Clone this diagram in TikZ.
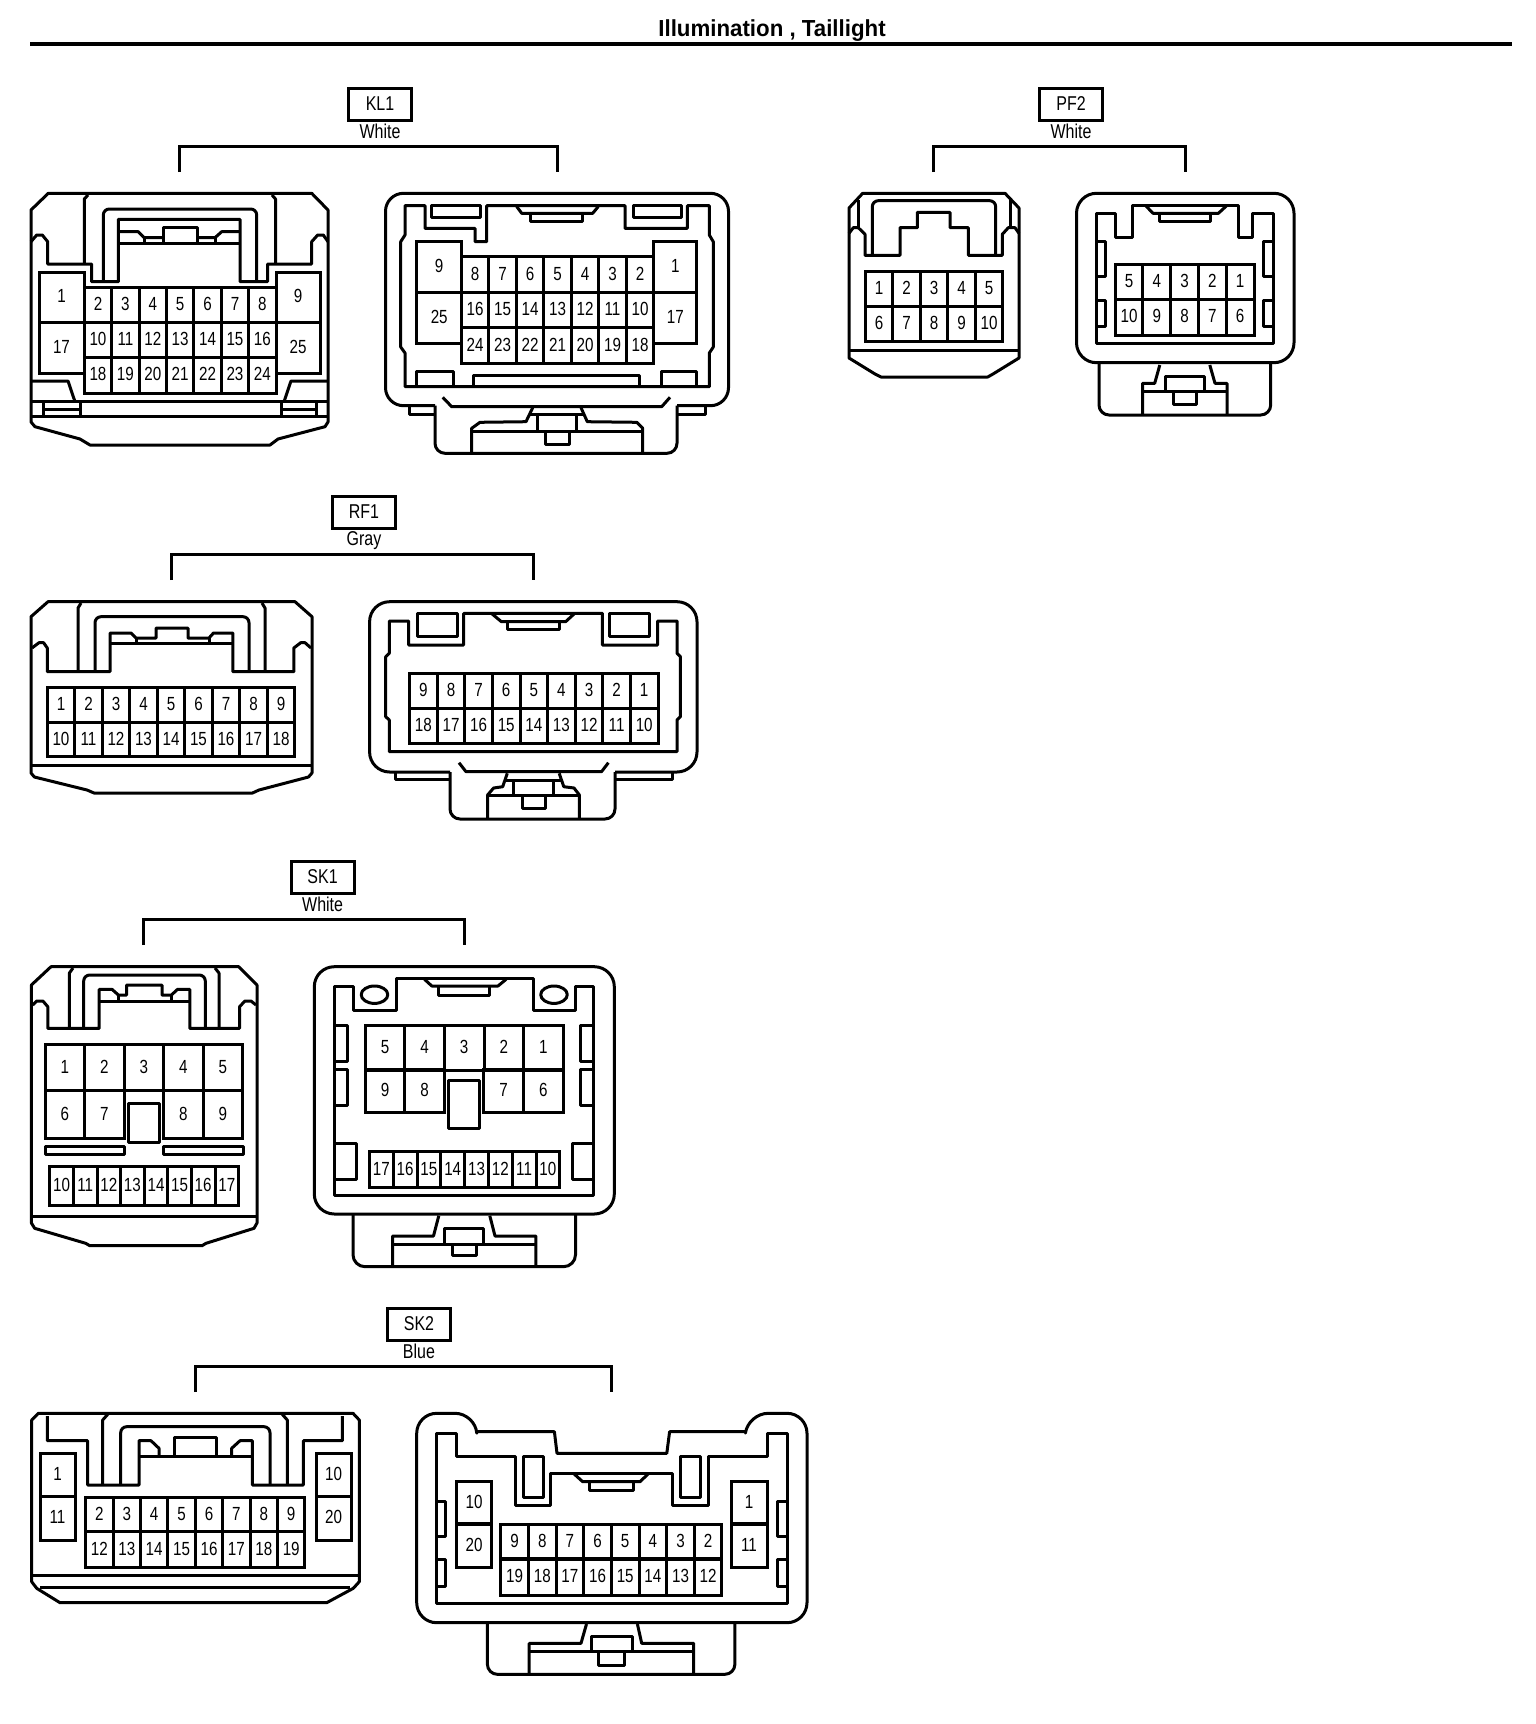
\documentclass[tikz,border=0pt]{standalone}
\usepackage{fontspec}
\setmainfont[FakeStretch=.8]{Liberation Sans}
\newfontfamily\headfont[FakeStretch=.96]{Liberation Sans}
\usetikzlibrary{positioning}
\begin{document}
\begin{tikzpicture}[x=.5pt,y=-.5pt,
part/.style={line width=1.5pt,line join=round},
bracket/.style={line width=1.5pt},
cavity/.style 2 args={draw,line width=1.5pt,inner sep=0pt,outer sep=0pt,text depth=1pt,minimum width=#1*.5pt,minimum height=#2*.5pt,font=\fontsize{9.5}{10}\selectfont},
connlabel/.style={draw,line width=1.5pt,inner sep=0pt,outer sep=0pt,minimum width=31.5pt,minimum height=16pt,font=\fontsize{10}{11}\selectfont},
colorlabel/.style={inner sep=0pt,outer sep=0pt,font=\fontsize{10}{11}\selectfont}]
\fill[white] (0,0) rectangle (1536,1724);
\useasboundingbox (0,0) rectangle (1536,1724);
\node[inner sep=0pt,font=\headfont\bfseries\fontsize{11.6}{13}\selectfont] (title) at (772,31) {Illumination , Taillight};
\coordinate (ruleL) at (30,44);
\coordinate (ruleR) at (1512,44);
\draw[line width=2pt] (ruleL) -- (ruleR);
\foreach \cn/\col/\x/\y/\xl/\xr in {KL1/White/380/104/179/557,PF2/White/1071/104/933/1185,RF1/Gray/364/512/171/533,SK1/White/322.6/877/143.7/464,SK2/Blue/419/1324/195.5/611} {
   \node[connlabel] (\cn) at (\x,\y) {\cn};
   \node[colorlabel,below=2pt of \cn] (\cn col) {\col};
   \coordinate (\cn L) at (\xl,\y+68);
   \coordinate (\cn R) at (\xr,\y+68);
   \draw[bracket] (\cn L) -- ++(0,-26) -| (\cn R);
}
\foreach \p/\xa/\ya/\pw/\ph/\pins in {
   KLa/98/304.5/27.4/35/{2,3,4,5,6,7,8},KLa/98/339.5/27.4/35/{10,11,12,13,14,15,16},KLa/98/375/27.4/36/{18,19,20,21,22,23,24},
   KLa/61.5/297/45/50/{1},KLa/61.5/347.5/45/51/{17},KLa/298/297/44/50/{9},KLa/298/347.5/44/51/{25},
   KLb/475/274.7/27.5/36/{8,7,6,5,4,3,2},KLb/475/310.3/27.5/35.3/{16,15,14,13,12,11,10},KLb/475/345.7/27.5/35.5/{24,23,22,21,20,19,18},
   KLb/439.2/266.5/45/51/{9},KLb/439.2/317.5/45/51/{25},KLb/675.4/266.5/43/51/{1},KLb/675.4/317.5/43/51/{17},
   PFa/879/288.8/27.5/34.5/{1,2,3,4,5},PFa/879/323.5/27.5/35/{6,7,8,9,10},
   PFb/1129/281.7/27.8/35.3/{5,4,3,2,1},PFb/1129/317.2/27.8/35.7/{10,9,8,7,6},
   RFa/61/704.8/27.5/35/{1,2,3,4,5,6,7,8,9},RFa/61/739.5/27.5/34.4/{10,11,12,13,14,15,16,17,18},
   RFb/423.4/690.8/27.6/35/{9,8,7,6,5,4,3,2,1},RFb/423.4/725.8/27.6/35/{18,17,16,15,14,13,12,11,10},
   SKa/64.8/1067.5/39.5/46.4/{1,2,3,4,5},SKa/64.8/1114.5/39.5/47.6/{6,7},SKa/183.3/1114.5/39.5/47.6/{8,9},
   SKa/61.6/1186.3/23.6/39.3/{10,11,12,13,14,15,16,17},
   SKb/385/1047.5/39.6/45/{5,4,3,2,1},SKb/385/1091.3/39.6/42.7/{9,8},SKb/503.7/1091.3/39.6/42.7/{7,6},
   SKb/381.3/1169.7/23.8/36/{17,16,15,14,13,12,11,10},
   SKc/99.4/1514.5/27.4/34.4/{2,3,4,5,6,7,8,9},SKc/99.4/1549.5/27.4/35.6/{12,13,14,15,16,17,18,19},
   SKc/57.5/1475/35/43.4/{1},SKc/57.5/1518.3/35/43.4/{11},SKc/333.5/1475/35/43.4/{10},SKc/333.5/1518.3/35/43.4/{20},
   SKd/514.6/1541.5/27.65/35/{9,8,7,6,5,4,3,2},SKd/514.6/1577.3/27.65/36.7/{19,18,17,16,15,14,13,12},
   SKd/474/1502.5/35.4/43/{10},SKd/474/1545.8/35.4/43.7/{20},SKd/749/1502.5/36/43/{1},SKd/749/1545.8/36/43.7/{11}} {
   \foreach \n[count=\i from 0] in \pins {
      \node[cavity={\pw}{\ph}] (\p\n) at (\xa+\i*\pw,\ya) {\n};
   }
}
% KL1
\draw[part] (48.3,193.3) -- (31,210) -- (31,422) -- (35,426.7) -- (80,439) -- (90,445) -- (270,445) -- (278,439) -- (325,426.7) -- (328,422) -- (328,210) -- (311.7,193.3) -- cycle;
\draw[part] (31,241.7) -- (36.7,235) -- (42.3,235) -- (47.7,241.7) -- (47.7,264) -- (91.7,264) -- (91.7,281.7) -- (118.3,281.7) -- (118.3,219.3) -- (240,219.3) -- (240,281.7) -- (267.5,281.7) -- (267.5,264) -- (311.7,264) -- (311.7,241.7) -- (317.7,235) -- (323.3,235) -- (328,241.7);
\draw[part] (84.3,264) -- (84.3,199) -- (88,195);
\draw[part] (275.5,264) -- (275.5,199) -- (272,195);
\draw[part,rounded corners=3pt] (103.3,281.7) -- (103.3,209) -- (256.7,209) -- (256.7,281.7);
\draw[part] (118.3,243.3) -- (240,243.3);
\draw[part] (163.3,243.3) -- (163.3,227.3) -- (197.7,227.3) -- (197.7,243.3);
\draw[part] (118.3,231.7) -- (138.3,231.7) -- (144.3,237.7) -- (163.3,237.7);
\draw[part] (144.3,237.7) -- (144.3,243.3);
\draw[part] (240,231.7) -- (221.7,231.7) -- (215,237.7) -- (197.7,237.7);
\draw[part] (215,237.7) -- (215,243.3);
\draw[part] (31,381) -- (68,381) -- (75,401.7);
\draw[part] (328,381) -- (291,381) -- (284,401.7);
\draw[part] (31,401.7) -- (328,401.7);
\draw[part] (31,416.7) -- (328,416.7);
\foreach \x in {43.3,80,281,316.7} {
   \draw[part] (\x,401.7) -- (\x,416.7);
}
\draw[part] (43.3,409) -- (80,409);
\draw[part] (281,409) -- (316.7,409);
\draw[part,rounded corners=9pt] (435,405.7) -- (385.5,405.7) -- (385.5,193.3) -- (728.5,193.3) -- (728.5,405.7) -- (677,405.7);
\draw[part] (409.3,405.7) -- (409.3,414.3) -- (435,414.3);
\draw[part] (705,405.7) -- (705,414.3) -- (677,414.3);
\draw[part,rounded corners=5pt] (435,405.7) -- (435,453.3) -- (677,453.3) -- (677,405.7);
\draw[part] (405,386.7) -- (405,353) -- (400.7,347) -- (400.7,241.7) -- (405,235) -- (405,205.7) -- (425,205.7) -- (425,228.3) -- (475,228.3) -- (475,241.7) -- (486.7,241.7) -- (486.7,205.7) -- (625,205.7) -- (625,228.3) -- (687.3,228.3) -- (687.3,205.7) -- (709.3,205.7) -- (709.3,235) -- (713.3,241.7) -- (713.3,347) -- (709.3,353) -- (709.3,386.7) -- cycle;
\draw[part] (431.7,205.7) rectangle (480,217.7);
\draw[part] (633.3,205.7) rectangle (681.7,217.7);
\draw[part] (516.7,206.5) -- (521.7,213.3) -- (592.7,213.3) -- (598.3,206.5);
\draw[part] (530.7,213.3) -- (530.7,221) -- (582.7,221) -- (582.7,213.3);
\draw[part] (416.7,386.7) -- (416.7,371.7) -- (453.3,371.7) -- (453.3,386.7);
\draw[part] (473.3,386.7) -- (473.3,375.7) -- (639.3,375.7) -- (639.3,386.7);
\draw[part] (661.7,386.7) -- (661.7,371.7) -- (696.7,371.7) -- (696.7,386.7);
\draw[part] (442.7,397.3) -- (451.7,406.7) -- (661.7,406.7) -- (670,397.3);
\draw[part] (532.7,407.7) -- (526,421.7) -- (480,422.3) -- (471.7,428.3) -- (471.7,452);
\draw[part] (581,407.7) -- (587.3,421.7) -- (636.7,422.3) -- (642.7,428.3) -- (642.7,452);
\draw[part] (471.7,431) -- (642.7,431);
\draw[part] (528.5,414.3) -- (583.5,414.3);
\draw[part] (537.3,414.3) -- (537.3,431);
\draw[part] (576.7,414.3) -- (576.7,431);
\draw[part] (545,431) -- (545,444) -- (569.3,444) -- (569.3,431);
% PF2
\draw[part] (862.7,193.3) -- (849,208) -- (849,358) -- (875,374) -- (881,377) -- (987.7,377) -- (993,374) -- (1019,358) -- (1019,208) -- (1005,193.3) -- cycle;
\draw[part] (849,350) -- (1019,350);
\draw[part] (849,233.3) -- (853.3,227.7) -- (858.3,227.7) -- (865,234.3) -- (865,255.3) -- (900,255.3) -- (900,227.7) -- (917.3,227.7) -- (917.3,212.3) -- (950,212.3) -- (950,227.7) -- (968.3,227.7) -- (968.3,255.3) -- (1002.3,255.3) -- (1002.3,234.3) -- (1008.3,227.7) -- (1015,227.7) -- (1019,233.3);
\draw[part] (858.3,200) -- (858.3,227.7);
\draw[part] (1010,200) -- (1010,227.7);
\draw[part,rounded corners=3pt] (872.3,255.3) -- (872.3,200.7) -- (995.7,200.7) -- (995.7,255.3);
\draw[part,rounded corners=10pt] (1076.5,362.7) -- (1076.5,193.3) -- (1294,193.3) -- (1294,362.7) -- cycle;
\draw[part,rounded corners=5pt] (1099,362.7) -- (1099,415) -- (1270.7,415) -- (1270.7,362.7);
\draw[part] (1096,343.3) -- (1096,213.3) -- (1115.8,213.3) -- (1115.8,237.7) -- (1132.3,237.7) -- (1132.3,205) -- (1238,205) -- (1238,237.7) -- (1252.8,237.7) -- (1252.8,213.3) -- (1273.5,213.3) -- (1273.5,343.3) -- cycle;
\draw[part] (1146,206) -- (1153,213.3) -- (1218.4,213.3) -- (1226.3,206);
\draw[part] (1159,213.3) -- (1159,221.7) -- (1210.8,221.7) -- (1210.8,213.3);
\foreach \ya/\yb in {241.7/276,300/326.7} {
   \draw[part] (1096,\ya) -- (1105.8,\ya) -- (1105.8,\yb) -- (1096,\yb);
   \draw[part] (1273.5,\ya) -- (1263,\ya) -- (1263,\yb) -- (1273.5,\yb);
}
\draw[part] (1159.8,365) -- (1154.7,383.3) -- (1142.6,383.3) -- (1142.6,414);
\draw[part] (1209.8,365) -- (1215,383.3) -- (1227,383.3) -- (1227,414);
\draw[part] (1142.6,391.7) -- (1227,391.7);
\draw[part] (1165.7,391.7) -- (1165.7,376.7) -- (1204.6,376.7) -- (1204.6,391.7);
\draw[part] (1173.6,391.7) -- (1173.6,404) -- (1196.7,404) -- (1196.7,391.7);
% RF1
\draw[part] (48,601.7) -- (31,616.7) -- (31,773) -- (34.4,777) -- (87,790) -- (94,793) -- (252.5,793) -- (259,790) -- (308.5,777) -- (312,773) -- (312,616.7) -- (295,601.7) -- cycle;
\draw[part] (31,765.7) -- (312,765.7);
\draw[part] (32,648) -- (39,642.7) -- (43.6,642.7) -- (47.3,648) -- (47.3,671.7) -- (110,671.7) -- (110,633) -- (131,633) -- (136,638) -- (156,638) -- (156,628) -- (188,628) -- (188,638) -- (209,638) -- (213.5,633) -- (232.8,633) -- (232.8,671.7) -- (293.8,671.7) -- (293.8,648) -- (300.7,642.7) -- (305,642.7) -- (311,648);
\draw[part] (110,643.3) -- (232.8,643.3);
\draw[part] (136,638) -- (136,643.3);
\draw[part] (209,638) -- (209,643.3);
\draw[part] (78,671.7) -- (78,608) -- (81,603);
\draw[part] (265,671.7) -- (265,608) -- (262,603);
\draw[part,rounded corners=3pt] (95,671.7) -- (95,616.7) -- (249,616.7) -- (249,671.7);
\draw[part,rounded corners=10pt] (450,772) -- (369.6,772) -- (369.6,601.7) -- (697,601.7) -- (697,772) -- (615,772);
\draw[part] (395,772) -- (395,779) -- (450,779);
\draw[part] (672.6,772) -- (672.6,779) -- (615,779);
\draw[part,rounded corners=5pt] (450,772) -- (450,819) -- (615,819) -- (615,772);
\draw[part] (389.3,751.7) -- (389.3,720) -- (385.7,716.7) -- (385.7,656.7) -- (389.3,653.3) -- (389.3,621) -- (408.6,621) -- (408.6,645) -- (463.7,645) -- (463.7,613.3) -- (602.4,613.3) -- (602.4,645) -- (657.5,645) -- (657.5,621) -- (677,621) -- (677,653.3) -- (680.4,656.7) -- (680.4,716.7) -- (677,720) -- (677,751.7) -- cycle;
\draw[part] (417,613.3) rectangle (457,636.7);
\draw[part] (609,613.3) rectangle (649.7,636.7);
\draw[part] (492.2,614) -- (501.4,621.7) -- (565.6,621.7) -- (574,614);
\draw[part] (507.3,621.7) -- (507.3,629.3) -- (559.2,629.3) -- (559.2,621.7);
\draw[part] (459,762.7) -- (466,771.7) -- (601.5,771.7) -- (608.4,762.7);
\draw[part] (507.3,773.3) -- (502.7,786.7) -- (493.6,788) -- (487.6,795) -- (487.6,818.3);
\draw[part] (559.2,773.3) -- (563.8,786.7) -- (574,788) -- (579.4,795) -- (579.4,818.3);
\draw[part] (487.6,795) -- (579.4,795);
\draw[part] (505,780) -- (561,780);
\draw[part] (513.3,780) -- (513.3,795);
\draw[part] (553.3,780) -- (553.3,795);
\draw[part] (522,795) -- (522,808.3) -- (545,808.3) -- (545,795);
% SK1
\draw[part] (51,966.7) -- (31.4,985) -- (31.4,1223) -- (34.7,1228.3) -- (85.7,1243.3) -- (89.8,1245.7) -- (202,1245.7) -- (206,1243.3) -- (254,1228.3) -- (257,1223) -- (257,985) -- (238.8,966.7) -- cycle;
\draw[part] (31.4,1216.7) -- (257,1216.7);
\draw[part] (32.7,1005) -- (36.7,1001) -- (42.9,1001) -- (47.8,1006.7) -- (47.8,1028.3) -- (99.2,1028.3) -- (99.2,989.3) -- (112,989.3) -- (118.4,995) -- (126.5,995) -- (126.5,985) -- (162,985) -- (162,995) -- (171.4,995) -- (177.6,989.3) -- (189.8,989.3) -- (189.8,1028.3) -- (239.6,1028.3) -- (239.6,1006.7) -- (244.9,1001) -- (251,1001) -- (256,1005);
\draw[part] (99.2,1001) -- (189.8,1001);
\draw[part] (118.4,995) -- (118.4,1001);
\draw[part] (171.4,995) -- (171.4,1001);
\draw[part] (69.4,1028.3) -- (69.4,973) -- (73,968);
\draw[part] (219,1028.3) -- (219,973) -- (215,968);
\draw[part,rounded corners=3pt] (83.7,1028.3) -- (83.7,975) -- (205.3,975) -- (205.3,1028.3);
\draw[part] (128.6,1103.3) rectangle (159,1142.7);
\draw[part] (45,1146) rectangle (124.5,1154.3);
\draw[part] (163.3,1146) rectangle (243,1154.3);
\draw[part,rounded corners=10pt] (314.3,1214) -- (314.3,966.7) -- (614.3,966.7) -- (614.3,1214) -- cycle;
\draw[part,rounded corners=6pt] (353,1214) -- (353,1266.7) -- (575.5,1266.7) -- (575.5,1214);
\draw[part] (334.7,1195.7) -- (334.7,986) -- (353,986) -- (353,1010) -- (396,1010) -- (396,978.3) -- (533.5,978.3) -- (533.5,1010) -- (575.5,1010) -- (575.5,986) -- (593.9,986) -- (593.9,1195.7) -- cycle;
\draw[part] (374.5,994.7) ellipse (13.3 and 8.7);
\draw[part] (554,994.7) ellipse (13.3 and 8.7);
\draw[part] (424.5,979.3) -- (431.8,986) -- (498,986) -- (506.1,979.3);
\draw[part] (438.8,986) -- (438.8,995) -- (489.8,995) -- (489.8,986);
\foreach \ya/\yb in {1025/1061.7,1069.3/1105} {
   \draw[part] (334.7,\ya) -- (347.8,\ya) -- (347.8,\yb) -- (334.7,\yb);
   \draw[part] (593.9,\ya) -- (580.4,\ya) -- (580.4,\yb) -- (593.9,\yb);
}
\draw[part] (334.7,1143.3) -- (356,1143.3) -- (356,1179.3) -- (334.7,1179.3);
\draw[part] (593.9,1143.3) -- (572.2,1143.3) -- (572.2,1179.3) -- (593.9,1179.3);
\draw[part] (448,1080.7) rectangle (479.6,1128.3);
\draw[part] (438.8,1215.7) -- (433.5,1236) -- (392.7,1236) -- (392.7,1265.7);
\draw[part] (489.8,1215.7) -- (495,1236) -- (535.9,1236) -- (535.9,1265.7);
\draw[part] (392.7,1244) -- (535.9,1244);
\draw[part] (444.9,1244) -- (444.9,1228.3) -- (483.7,1228.3) -- (483.7,1244);
\draw[part] (452.2,1244) -- (452.2,1255.7) -- (476.3,1255.7) -- (476.3,1244);
% SK2
\draw[part] (38.3,1413.3) -- (31.7,1420) -- (31.7,1581.7) -- (36.7,1588.3) -- (60,1602.7) -- (326.7,1602.7) -- (353.3,1588.3) -- (359.3,1581.7) -- (359.3,1420) -- (353,1413.3) -- cycle;
\draw[part] (31.7,1575) -- (359.3,1575);
\draw[part] (40,1587.3) -- (350,1587.3);
\draw[part] (47.3,1416) -- (47.3,1440.7) -- (87.7,1440.7) -- (87.7,1485) -- (139,1485) -- (139,1440.7) -- (151,1440.7) -- (159,1448.3) -- (159,1456.7);
\draw[part] (342.3,1416) -- (342.3,1440.7) -- (303.3,1440.7) -- (303.3,1485) -- (252.3,1485) -- (252.3,1440.7) -- (240,1440.7) -- (231.7,1448.3) -- (231.7,1456.7);
\draw[part] (139,1456.7) -- (252.3,1456.7);
\draw[part] (174,1456.7) -- (174,1437.3) -- (216.7,1437.3) -- (216.7,1456.7);
\draw[part] (102.7,1485) -- (102.7,1420) -- (108,1414);
\draw[part] (287.3,1485) -- (287.3,1420) -- (282,1414);
\draw[part,rounded corners=3pt] (120.7,1485) -- (120.7,1426.7) -- (270,1426.7) -- (270,1485);
\draw[part,rounded corners=10pt] (416.7,1500) -- (416.7,1413.3) -- (475,1413.3) -- (476.7,1431.7);
\draw[part] (476.7,1431.7) -- (554.4,1431.7) -- (557,1453.3) -- (666.8,1453.3) -- (669.6,1431.7) -- (745.6,1431.7);
\draw[part,rounded corners=10pt] (745.6,1431.7) -- (748.3,1413.3) -- (807,1413.3) -- (807,1622.7) -- (416.7,1622.7) -- (416.7,1500);
\draw[part,rounded corners=5pt] (487.4,1622.7) -- (487.4,1674.3) -- (734.9,1674.3) -- (734.9,1622.7);
\draw[part] (436.5,1603.3) -- (436.5,1433.3) -- (456.3,1433.3) -- (456.3,1456.7) -- (515.3,1456.7) -- (515.3,1505.7) -- (550,1505.7) -- (550,1473.3) -- (672.2,1473.3) -- (672.2,1505.7) -- (708,1505.7) -- (708,1456.7) -- (767,1456.7) -- (767,1433.3) -- (787.4,1433.3) -- (787.4,1603.3) -- cycle;
\draw[part] (523.8,1456.7) rectangle (543.7,1497.3);
\draw[part] (680.3,1456.7) rectangle (700,1497.3);
\draw[part] (574.2,1474) -- (582.7,1481.7) -- (640,1481.7) -- (648,1474);
\draw[part] (589.2,1481.7) -- (589.2,1490) -- (633.6,1490) -- (633.6,1481.7);
\foreach \ya/\yb in {1501.7/1536,1559.3/1586.7} {
   \draw[part] (436.5,\ya) -- (445.6,\ya) -- (445.6,\yb) -- (436.5,\yb);
   \draw[part] (787.4,\ya) -- (777.7,\ya) -- (777.7,\yb) -- (787.4,\yb);
}
\draw[part] (586.5,1624) -- (581,1643.3) -- (529.2,1643.3) -- (529.2,1673);
\draw[part] (637.4,1624) -- (641.7,1643.3) -- (693.6,1643.3) -- (693.6,1673);
\draw[part] (529.2,1651.7) -- (693.6,1651.7);
\draw[part] (591.9,1651.7) -- (591.9,1636.7) -- (632,1636.7) -- (632,1651.7);
\draw[part] (598.8,1651.7) -- (598.8,1665) -- (624,1665) -- (624,1651.7);
\end{tikzpicture}
\end{document}
